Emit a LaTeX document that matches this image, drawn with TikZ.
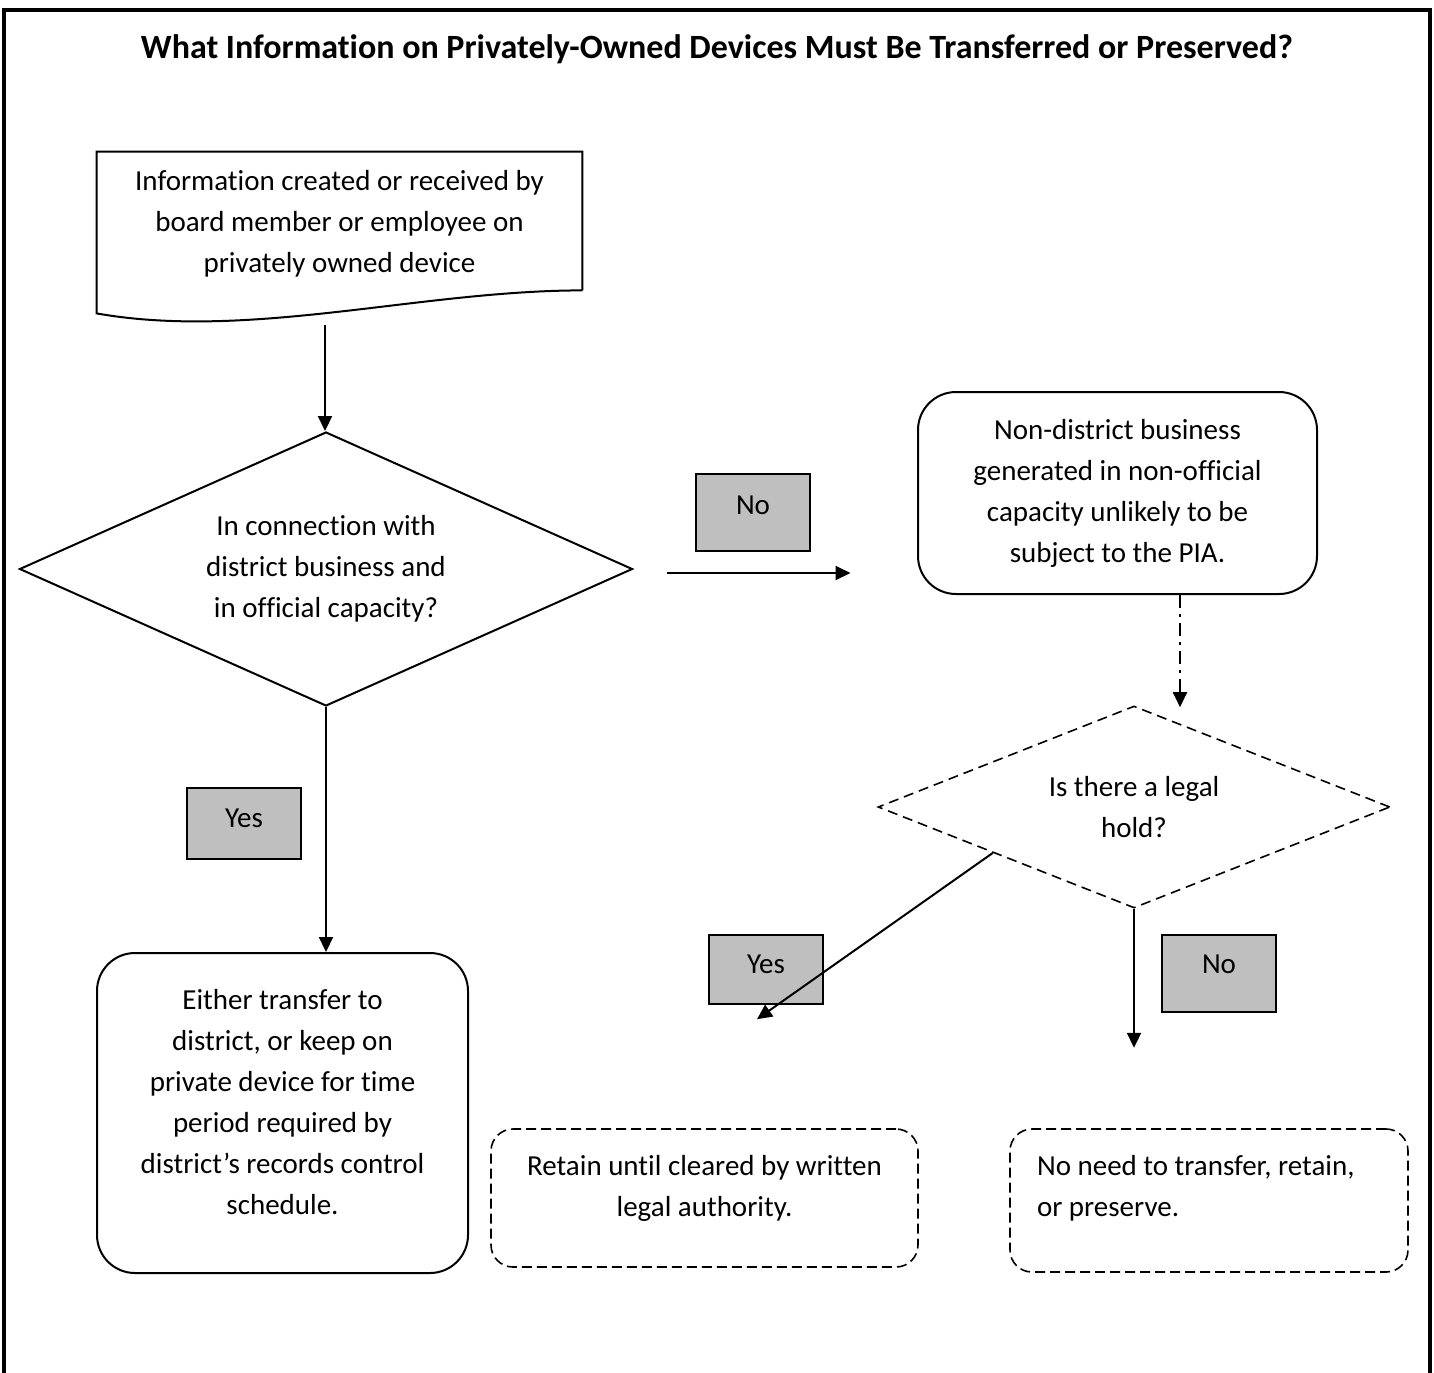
\documentclass[tikz,border=0pt]{standalone}
\usepackage{fontspec}
\setmainfont{Carlito}[Ligatures=NoCommon]
\usetikzlibrary{positioning,arrows.meta,shapes.geometric}
\definecolor{TagGray}{RGB}{191,191,191}
\newcommand{\bodyfont}{\fontsize{14.5pt}{20.5pt}\selectfont}
\tikzset{
  flow/.style={-{Triangle[length=7.5pt,width=7pt]},line width=1pt},
  holdflow/.style={-{Triangle[length=7.5pt,width=7pt]},line width=1pt,
    dash pattern=on 6.5pt off 3pt on 1.5pt off 3pt},
  outline/.style={line width=1pt},
  box/.style={draw,line width=1pt,rounded corners=19pt,align=center,font=\bodyfont},
  dashbox/.style={draw,line width=0.8pt,rounded corners=11pt,
    dash pattern=on 5pt off 2.5pt,font=\bodyfont},
  ask/.style={diamond,draw,line width=1pt,align=center,font=\bodyfont,inner sep=0pt},
  tag/.style={draw,fill=TagGray,line width=1pt,minimum width=57pt,font=\bodyfont,
    text depth=#1},
  frame/.style={line width=1.8pt}
}
\begin{document}
\begin{tikzpicture}[x=0.5pt,y=-0.5pt]
  \useasboundingbox (0,0) rectangle (1434,1372);
  \draw[frame] (4,1390) -- (4,10) -- (1430,10) -- (1430,1390);
  \node[font=\fontsize{17pt}{20pt}\selectfont\bfseries] (title) at (717,49)
    {What Information on Privately-Owned Devices Must Be Transferred or Preserved?};

  % document shape
  \node[align=center,font=\bodyfont,minimum width=242.5pt,minimum height=69pt,
    inner sep=0pt,text depth=0pt] (info) at (339.5,221)
    {Information created or received by\\board member or employee on\\privately owned device};
  \draw[outline] (info.south east) -- (info.north east) -- (info.north west)
    -- ([yshift=-11.5pt]info.south west)
    .. controls +(153,27) and +(-162,0) .. (info.south east);
  \coordinate (infofoot) at (325,325);

  \node[ask,minimum width=306.5pt,minimum height=137pt,shape aspect=2.24] (official)
    at (326,569) {In connection with\\district business and\\in official capacity?};
  \draw[flow] (infofoot) -- (infofoot |- official.north);

  \node[box,minimum width=199.5pt,minimum height=101pt] (private) at (1117.5,493)
    {Non-district business\\generated in non-official\\capacity unlikely to be\\subject to the PIA.};
  \node[tag=7.5pt,minimum height=38.5pt] (noA) at (753,512.5) {No};
  \draw[flow] ([shift={(16.5pt,-2pt)}]official.east) -- ++(92pt,0pt);

  \node[box,minimum width=185.5pt,minimum height=160pt,text depth=11.4pt] (keep)
    at (282.5,1113) {Either transfer to\\district, or keep on\\private device for time\\period required by\\district’s records control\\schedule.};
  \node[tag=5.5pt,minimum height=35.5pt] (yesA) at (244,823.5) {Yes};
  \draw[flow] (official.south) -- (official.south |- keep.north);

  % legal hold
  \node[ask,line width=0.8pt,dash pattern=on 5pt off 3pt,minimum width=256pt,
    minimum height=101pt,shape aspect=2.53] (hold) at (1134,807)
    {Is there a legal\\hold?};
  \draw[holdflow] ([xshift=31.25pt]private.south) -- ([shift={(23pt,-1pt)}]hold.north);

  \node[dashbox,align=center,minimum width=213.5pt,minimum height=69pt,
    text depth=12.4pt] (retain) at (704.5,1198)
    {Retain until cleared by written\\legal authority.};
  \node[dashbox,align=flush left,text width=172pt,inner xsep=0pt,minimum width=199pt,
    minimum height=71.5pt,text depth=35.2pt] (noneed) at (1209,1200.5)
    {No need to transfer, retain,\\or preserve.};
  \node[tag=5.5pt,minimum height=34.5pt] (yesB) at (766,969.5) {Yes};
  \node[tag=9.5pt,minimum height=38.5pt] (noB) at (1219,973.5) {No};
  \draw[flow] (hold.198) -- ([shift={(26.25pt,54.5pt)}]retain.north);
  \draw[flow] (hold.south) -- ++(0pt,-69.5pt);
\end{tikzpicture}
\end{document}
